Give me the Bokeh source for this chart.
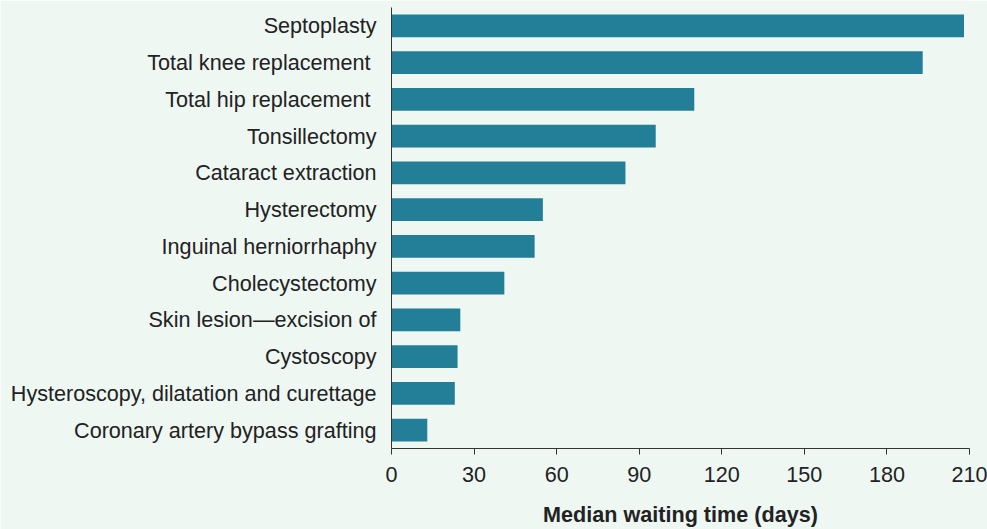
from bokeh.plotting import figure
from bokeh.models import FactorRange, Range1d, FixedTicker
from bokeh.embed import file_html
from bokeh.resources import INLINE

procedures = [
    "Septoplasty",
    "Total knee replacement ",
    "Total hip replacement ",
    "Tonsillectomy",
    "Cataract extraction",
    "Hysterectomy",
    "Inguinal herniorrhaphy",
    "Cholecystectomy",
    "Skin lesion\u2014excision of",
    "Cystoscopy",
    "Hysteroscopy, dilatation and curettage",
    "Coronary artery bypass grafting",
]
median_days = [208, 193, 110, 96, 85, 55, 52, 41, 25, 24, 23, 13]
x_ticks = [0, 30, 60, 90, 120, 150, 180, 210]

BG = "#eef7f2"
BAR = "#237f97"
TXT = "#222222"
FONT = "Liberation Sans"
FS = "21.6px"

p = figure(
    width=987, height=529,
    y_range=FactorRange(factors=list(reversed(procedures))),
    x_range=Range1d(0, 210),
    output_backend="svg", toolbar_location=None,
    min_border_left=391, min_border_right=18, min_border_top=7, min_border_bottom=80,
)
p.hbar(y=procedures, right=median_days, left=0, height=0.62, color=BAR, line_color=None)

p.background_fill_color = BG
p.border_fill_color = BG
p.outline_line_color = None
p.grid.grid_line_color = None

xa = p.xaxis[0]
xa.ticker = FixedTicker(ticks=x_ticks)
xa.axis_label = "Median waiting time (days)"
xa.axis_label_text_font = FONT
xa.axis_label_text_font_size = FS
xa.axis_label_text_font_style = "bold"
xa.axis_label_text_color = TXT
xa.axis_label_standoff = 17
xa.major_label_text_font = FONT
xa.major_label_text_font_size = FS
xa.major_label_text_color = TXT
xa.major_label_standoff = 12
xa.major_tick_in = 0
xa.major_tick_out = 6
xa.minor_tick_line_color = None
xa.axis_line_color = "#333333"
xa.major_tick_line_color = "#333333"

ya = p.yaxis[0]
ya.major_label_text_font = FONT
ya.major_label_text_font_size = FS
ya.major_label_text_color = TXT
ya.major_tick_line_color = None
ya.major_tick_in = 0
ya.major_tick_out = 0
ya.major_label_standoff = 15
ya.axis_line_color = "#333333"

html = file_html(p, INLINE)
html = html.replace("<body>", '<body style="margin:0;overflow:hidden;background-color:%s;">' % BG, 1)
open("out.html", "w").write(html)
